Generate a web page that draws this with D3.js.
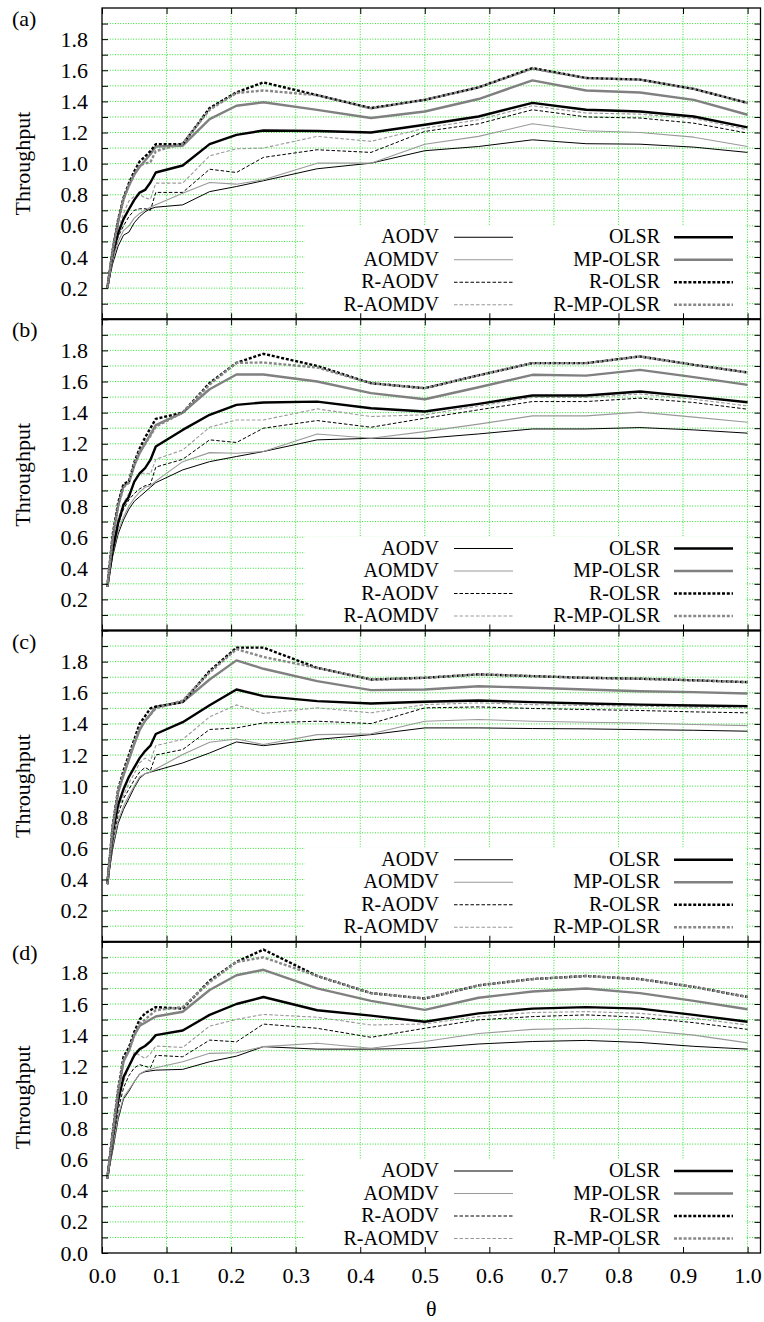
<!DOCTYPE html>
<html><head><meta charset="utf-8">
<script src="https://cdn.jsdelivr.net/npm/d3@7"></script>
<style>body{margin:0;background:#fff}svg{display:block}</style>
</head><body>
<svg id="chart" width="764" height="1322"></svg>
<script>
// ---------- data ----------
const thetas = [0.0083, 0.0167, 0.025, 0.0333, 0.0417, 0.05, 0.0583, 0.0667, 0.075, 0.0833, 0.125, 0.1667, 0.2083, 0.25, 0.3333, 0.4167, 0.5, 0.5833, 0.6667, 0.75, 0.8333, 0.9167, 1.0];
const seriesNames = ["AODV", "AOMDV", "R-AODV", "R-AOMDV", "OLSR", "MP-OLSR", "R-OLSR", "R-MP-OLSR"];
const panelLabels = ["(a)", "(b)", "(c)", "(d)"];
const yTickValues = [0.2, 0.4, 0.6, 0.8, 1.0, 1.2, 1.4, 1.6, 1.8];
const yTickValuesLast = [0.0, 0.2, 0.4, 0.6, 0.8, 1.0, 1.2, 1.4, 1.6, 1.8];
const xTickValues = [0.0, 0.1, 0.2, 0.3, 0.4, 0.5, 0.6, 0.7, 0.8, 0.9, 1.0];
const xLabel = "θ";
const yLabel = "Throughput";

// panel (a)
const aAODV     = [0.2, 0.36, 0.47, 0.54, 0.56, 0.62, 0.66, 0.69, 0.71, 0.72, 0.735, 0.82, 0.853, 0.89, 0.967, 1.003, 1.083, 1.11, 1.153, 1.128, 1.125, 1.106, 1.072];
const aAOMDV    = [0.2, 0.38, 0.50, 0.57, 0.60, 0.65, 0.68, 0.70, 0.72, 0.735, 0.81, 0.879, 0.868, 0.896, 1.003, 1.003, 1.125, 1.175, 1.256, 1.211, 1.2, 1.17, 1.11];
const aRAODV    = [0.2, 0.40, 0.53, 0.60, 0.66, 0.70, 0.71, 0.71, 0.70, 0.815, 0.815, 0.964, 0.943, 1.04, 1.089, 1.072, 1.207, 1.256, 1.346, 1.30, 1.293, 1.26, 1.196];
const aRAOMDV   = [0.2, 0.42, 0.58, 0.68, 0.76, 0.79, 0.80, 0.78, 0.77, 0.875, 0.875, 1.05, 1.095, 1.10, 1.175, 1.143, 1.228, 1.282, 1.372, 1.325, 1.318, 1.29, 1.218];
const aOLSR     = [0.2, 0.424, 0.553, 0.643, 0.707, 0.767, 0.814, 0.831, 0.879, 0.943, 0.988, 1.125, 1.185, 1.213, 1.21, 1.20, 1.25, 1.303, 1.39, 1.346, 1.335, 1.303, 1.233];
const aMPOLSR   = [0.2, 0.45, 0.63, 0.77, 0.86, 0.93, 0.98, 1.02, 1.06, 1.11, 1.115, 1.286, 1.372, 1.394, 1.345, 1.293, 1.335, 1.415, 1.535, 1.47, 1.457, 1.41, 1.314];
const aROLSR    = [0.2, 0.445, 0.64, 0.78, 0.874, 0.95, 1.014, 1.046, 1.08, 1.125, 1.125, 1.357, 1.458, 1.522, 1.44, 1.357, 1.41, 1.49, 1.614, 1.55, 1.54, 1.48, 1.39];
const aRMPOLSR  = [0.2, 0.44, 0.63, 0.77, 0.86, 0.93, 0.99, 1.00, 1.01, 1.08, 1.13, 1.346, 1.454, 1.47, 1.44, 1.355, 1.41, 1.49, 1.61, 1.55, 1.54, 1.48, 1.39];

// panel (b)
const bAODV     = [0.28, 0.48, 0.62, 0.71, 0.78, 0.83, 0.86, 0.89, 0.92, 0.95, 1.032, 1.085, 1.118, 1.15, 1.225, 1.235, 1.235, 1.263, 1.295, 1.295, 1.304, 1.289, 1.268];
const bAOMDV    = [0.28, 0.50, 0.64, 0.73, 0.80, 0.85, 0.89, 0.92, 0.93, 0.96, 1.085, 1.143, 1.139, 1.15, 1.263, 1.235, 1.278, 1.326, 1.379, 1.379, 1.403, 1.371, 1.338];
const bRAODV    = [0.28, 0.52, 0.68, 0.78, 0.84, 0.88, 0.91, 0.93, 0.94, 1.05, 1.10, 1.225, 1.208, 1.30, 1.349, 1.306, 1.364, 1.418, 1.471, 1.471, 1.493, 1.465, 1.422];
const bRAOMDV   = [0.28, 0.55, 0.72, 0.82, 0.88, 0.95, 1.01, 1.01, 1.005, 1.10, 1.16, 1.306, 1.353, 1.353, 1.424, 1.375, 1.386, 1.443, 1.497, 1.497, 1.52, 1.486, 1.443];
const bOLSR     = [0.28, 0.52, 0.69, 0.807, 0.86, 0.957, 1.01, 1.043, 1.096, 1.182, 1.289, 1.386, 1.45, 1.465, 1.471, 1.428, 1.407, 1.456, 1.51, 1.51, 1.536, 1.503, 1.467];
const bMPOLSR   = [0.28, 0.60, 0.80, 0.93, 0.95, 1.06, 1.14, 1.20, 1.26, 1.32, 1.40, 1.55, 1.645, 1.645, 1.60, 1.525, 1.486, 1.563, 1.643, 1.638, 1.675, 1.628, 1.578];
const bROLSR    = [0.28, 0.62, 0.82, 0.94, 0.96, 1.08, 1.17, 1.24, 1.30, 1.36, 1.40, 1.59, 1.72, 1.778, 1.70, 1.589, 1.557, 1.64, 1.718, 1.718, 1.761, 1.707, 1.658];
const bRMPOLSR  = [0.28, 0.60, 0.80, 0.92, 0.95, 1.07, 1.15, 1.20, 1.25, 1.31, 1.40, 1.58, 1.72, 1.722, 1.69, 1.589, 1.557, 1.64, 1.718, 1.718, 1.761, 1.707, 1.658];

// panel (c)
const cAODV     = [0.37, 0.60, 0.76, 0.85, 0.92, 0.99, 1.05, 1.08, 1.09, 1.10, 1.149, 1.213, 1.284, 1.26, 1.30, 1.331, 1.374, 1.374, 1.37, 1.368, 1.363, 1.359, 1.353];
const cAOMDV    = [0.37, 0.62, 0.78, 0.87, 0.94, 1.00, 1.06, 1.08, 1.09, 1.11, 1.203, 1.282, 1.303, 1.267, 1.331, 1.336, 1.417, 1.428, 1.417, 1.41, 1.406, 1.396, 1.389];
const cRAODV    = [0.37, 0.64, 0.82, 0.92, 0.98, 1.04, 1.09, 1.12, 1.10, 1.20, 1.235, 1.364, 1.374, 1.406, 1.417, 1.402, 1.503, 1.509, 1.499, 1.492, 1.486, 1.477, 1.471];
const cRAOMDV   = [0.37, 0.66, 0.85, 0.94, 1.02, 1.08, 1.15, 1.18, 1.16, 1.26, 1.30, 1.445, 1.522, 1.467, 1.503, 1.471, 1.524, 1.535, 1.524, 1.518, 1.514, 1.507, 1.503];
const cOLSR     = [0.37, 0.70, 0.88, 0.98, 1.06, 1.12, 1.18, 1.225, 1.26, 1.335, 1.411, 1.52, 1.621, 1.578, 1.546, 1.531, 1.542, 1.55, 1.54, 1.531, 1.524, 1.518, 1.514];
const cMPOLSR   = [0.37, 0.74, 0.96, 1.07, 1.17, 1.27, 1.36, 1.42, 1.46, 1.51, 1.54, 1.685, 1.808, 1.754, 1.675, 1.617, 1.621, 1.642, 1.632, 1.621, 1.61, 1.604, 1.595];
const cROLSR    = [0.37, 0.75, 0.98, 1.10, 1.20, 1.30, 1.40, 1.45, 1.50, 1.51, 1.54, 1.74, 1.89, 1.89, 1.76, 1.685, 1.696, 1.718, 1.707, 1.696, 1.69, 1.68, 1.668];
const cRMPOLSR  = [0.37, 0.74, 0.97, 1.08, 1.18, 1.28, 1.37, 1.42, 1.46, 1.50, 1.55, 1.73, 1.88, 1.83, 1.76, 1.685, 1.696, 1.718, 1.707, 1.696, 1.69, 1.68, 1.668];

// panel (d)
const dAODV     = [0.48, 0.66, 0.86, 0.99, 1.04, 1.10, 1.15, 1.165, 1.17, 1.175, 1.18, 1.229, 1.265, 1.326, 1.31, 1.31, 1.316, 1.343, 1.359, 1.366, 1.353, 1.328, 1.31];
const dAOMDV    = [0.48, 0.68, 0.88, 1.00, 1.05, 1.10, 1.15, 1.17, 1.18, 1.19, 1.229, 1.283, 1.287, 1.326, 1.348, 1.316, 1.359, 1.41, 1.437, 1.444, 1.433, 1.40, 1.35];
const dRAODV    = [0.48, 0.70, 0.92, 1.06, 1.14, 1.19, 1.21, 1.20, 1.19, 1.27, 1.261, 1.368, 1.357, 1.471, 1.444, 1.386, 1.444, 1.498, 1.519, 1.53, 1.515, 1.48, 1.437];
const dRAOMDV   = [0.48, 0.72, 0.95, 1.10, 1.20, 1.29, 1.27, 1.25, 1.28, 1.33, 1.321, 1.458, 1.501, 1.533, 1.515, 1.465, 1.472, 1.519, 1.545, 1.551, 1.54, 1.508, 1.465];
const dOLSR     = [0.48, 0.75, 0.98, 1.13, 1.20, 1.27, 1.31, 1.33, 1.36, 1.40, 1.43, 1.53, 1.60, 1.645, 1.56, 1.525, 1.486, 1.54, 1.57, 1.58, 1.57, 1.53, 1.486];
const dMPOLSR   = [0.48, 0.77, 1.03, 1.23, 1.30, 1.40, 1.46, 1.48, 1.50, 1.52, 1.55, 1.69, 1.785, 1.82, 1.70, 1.62, 1.562, 1.64, 1.68, 1.70, 1.67, 1.62, 1.566];
const dROLSR    = [0.48, 0.78, 1.05, 1.26, 1.32, 1.42, 1.50, 1.54, 1.56, 1.58, 1.57, 1.75, 1.87, 1.95, 1.78, 1.67, 1.635, 1.72, 1.76, 1.78, 1.76, 1.71, 1.645];
const dRMPOLSR  = [0.48, 0.77, 1.04, 1.24, 1.30, 1.40, 1.47, 1.50, 1.53, 1.56, 1.58, 1.74, 1.87, 1.90, 1.78, 1.67, 1.635, 1.72, 1.76, 1.78, 1.76, 1.71, 1.645];

const panelData = [
  [aAODV, aAOMDV, aRAODV, aRAOMDV, aOLSR, aMPOLSR, aROLSR, aRMPOLSR],
  [bAODV, bAOMDV, bRAODV, bRAOMDV, bOLSR, bMPOLSR, bROLSR, bRMPOLSR],
  [cAODV, cAOMDV, cRAODV, cRAOMDV, cOLSR, cMPOLSR, cROLSR, cRMPOLSR],
  [dAODV, dAOMDV, dRAODV, dRAOMDV, dOLSR, dMPOLSR, dROLSR, dRMPOLSR]
];

// ---------- styles ----------
const seriesStyle = [
  {color: "#000",   width: 1,   dash: null},
  {color: "#999",   width: 1.1, dash: null},
  {color: "#000",   width: 1,   dash: "3.5,2"},
  {color: "#999",   width: 1.1, dash: "3.5,2"},
  {color: "#000",   width: 2.4, dash: null},
  {color: "#808080",width: 2.4, dash: null},
  {color: "#000",   width: 2.4, dash: "3,1.8"},
  {color: "#888",   width: 2.4, dash: "3,1.8"}
];
const FONT = "'Liberation Serif','Times New Roman',serif";
const gridColor = "#2fe02f";

const svg = d3.select("#chart");
const left = 102, right = 760.5, top0 = 8, ph = 311.25;
const x = d3.scaleLinear().domain([0, 1.02]).range([left, right]);
const y = d3.scaleLinear().domain([0, 2]).range([ph, 0]);
const minorY = d3.range(1, 20).map(d => d / 10);
const line = d3.line().x(d => x(d[0])).y(d => y(d[1]));

panelData.forEach((series, pi) => {
  const g = svg.append("g").attr("transform", `translate(0,${top0 + pi * ph})`);
  const isLast = pi === 3;

  // grid
  const grid = g.append("g").attr("stroke", gridColor).attr("stroke-width", 1).attr("stroke-dasharray", "1,1.6").attr("fill", "none");
  minorY.forEach(v => grid.append("line").attr("x1", left).attr("x2", right).attr("y1", y(v)).attr("y2", y(v)));
  xTickValues.slice(1).forEach(v => grid.append("line").attr("x1", x(v)).attr("x2", x(v)).attr("y1", 0).attr("y2", ph));

  // legend background
  g.append("rect").attr("x", 305).attr("y", y(0.605)).attr("width", 745 - 305).attr("height", ph - y(0.605)).attr("fill", "#fff");

  // data lines
  series.forEach((vals, si) => {
    const st = seriesStyle[si];
    g.append("path").datum(thetas.map((t, k) => [t, vals[k]]))
      .attr("d", line).attr("fill", "none")
      .attr("stroke", st.color).attr("stroke-width", st.width)
      .attr("stroke-dasharray", st.dash).attr("stroke-linejoin", "round");
  });

  // axes
  const yVals = isLast ? yTickValuesLast : yTickValues;
  const axL = d3.axisLeft(y).tickValues([0, ...minorY]).tickSize(-6).tickPadding(14)
    .tickFormat(d => yVals.some(v => Math.abs(v - d) < 1e-6) ? d3.format(".1f")(d) : "");
  g.append("g").attr("transform", `translate(${left},0)`).call(axL);
  const axR = d3.axisRight(y).tickValues(minorY).tickSize(-6).tickFormat("");
  g.append("g").attr("transform", `translate(${right},0)`).call(axR);
  const axT = d3.axisTop(x).tickValues(xTickValues).tickSize(-6).tickFormat("");
  g.append("g").call(axT);
  const axB = d3.axisBottom(x).tickValues(xTickValues).tickSize(-6).tickPadding(14)
    .tickFormat(d => isLast ? d3.format(".1f")(d) : "");
  g.append("g").attr("transform", `translate(0,${ph})`).call(axB);
  g.selectAll(".domain").remove();
  g.selectAll(".tick line").attr("stroke", "#000");
  g.selectAll(".tick text").attr("font-family", FONT).attr("font-size", 22).attr("fill", "#000");

  // border
  g.append("rect").attr("x", left).attr("y", 0).attr("width", right - left).attr("height", ph)
    .attr("fill", "none").attr("stroke", "#000").attr("stroke-width", 1.3);

  // panel label & y label
  g.append("text").attr("x", 12).attr("y", 18).text(panelLabels[pi])
    .attr("font-family", FONT).attr("font-size", 22);
  g.append("text").attr("transform", `translate(30,${ph / 2}) rotate(-90)`).attr("text-anchor", "middle")
    .text(yLabel).attr("font-family", FONT).attr("font-size", 22);

  // legend
  seriesNames.forEach((name, si) => {
    const col = si < 4 ? 0 : 1, row = si % 4;
    const tx = col ? 660 : 439, lx = col ? 674 : 454;
    const st = seriesStyle[si];
    g.append("text").attr("x", tx).attr("y", ph - 76 + row * 22.5).attr("text-anchor", "end")
      .attr("font-family", FONT).attr("font-size", 20).text(name);
    g.append("line").attr("x1", lx).attr("x2", lx + 59)
      .attr("y1", ph - 82 + row * 22.5).attr("y2", ph - 82 + row * 22.5)
      .attr("stroke", st.color).attr("stroke-width", st.width).attr("stroke-dasharray", st.dash);
  });
});

// separators between panels (thicker)
for (let i = 1; i < 4; i++) {
  svg.append("line").attr("x1", left).attr("x2", right).attr("y1", top0 + i * ph).attr("y2", top0 + i * ph)
    .attr("stroke", "#000").attr("stroke-width", 2.2);
}

// x label
svg.append("text").attr("x", (left + right) / 2).attr("y", 1316).attr("text-anchor", "middle")
  .attr("font-family", FONT).attr("font-size", 22).text(xLabel);
</script>
</body></html>
